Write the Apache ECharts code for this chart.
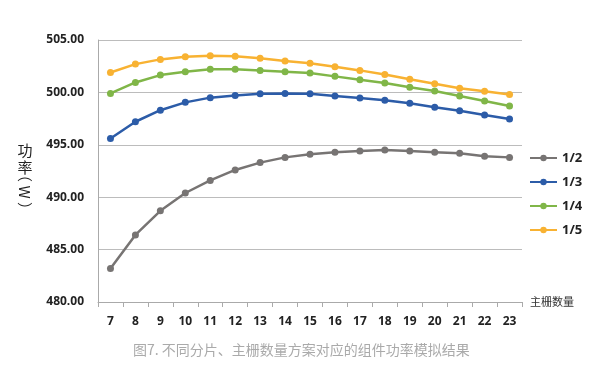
<!DOCTYPE html>
<html><head><meta charset="utf-8">
<script src="https://cdn.jsdelivr.net/npm/echarts@6/dist/echarts.min.js"></script>
<style>html,body{margin:0;padding:0;background:#fff}#c{width:600px;height:384px}</style>
</head><body><div id="c"></div>
<script>
const categories = ['7','8','9','10','11','12','13','14','15','16','17','18','19','20','21','22','23'];
const s12 = [483.2,486.4,488.7,490.4,491.6,492.6,493.3,493.8,494.1,494.3,494.4,494.5,494.4,494.3,494.2,493.9,493.8];
const s13 = [495.6,497.2,498.3,499.05,499.5,499.7,499.88,499.9,499.88,499.66,499.47,499.25,498.96,498.58,498.25,497.84,497.46];
const s14 = [499.9,500.95,501.65,501.97,502.2,502.2,502.1,501.97,501.85,501.53,501.2,500.9,500.5,500.13,499.66,499.18,498.7];
const s15 = [501.9,502.7,503.15,503.4,503.5,503.45,503.25,503.0,502.78,502.45,502.1,501.7,501.26,500.83,500.4,500.1,499.8];
const seriesNames = ['1/2','1/3','1/4','1/5'];
const colors = ['#777473','#2c5ca8','#80b648','#f8b232'];
const chart = echarts.init(document.getElementById('c'));
const mk = (name, data, color) => ({
  name, type: 'line', data, symbol: 'circle', symbolSize: 7,
  lineStyle: {width: 2.5, color}, itemStyle: {color}
});
chart.setOption({
  animation: false,
  grid: {left: 98, right: 78, top: 40, bottom: 82},
  legend: {
    orient: 'vertical', left: 529, top: 151, padding: 0, itemGap: 10, itemWidth: 27, itemHeight: 8,
    data: seriesNames,
    textStyle: {fontSize: 13, color: '#222', fontWeight: 'bold', lineHeight: 14, fontFamily: 'Open Sans'}
  },
  xAxis: {
    type: 'category', data: categories, boundaryGap: true,
    name: '主栅数量', nameLocation: 'end', nameGap: 8,
    nameTextStyle: {fontSize: 11, color: '#333', fontFamily: 'Noto Sans CJK SC', verticalAlign: 'middle'},
    axisLine: {lineStyle: {color: '#aaa', width: 1}},
    axisTick: {show: true, length: 5, alignWithLabel: false, lineStyle: {color: '#aaa'}},
    axisLabel: {fontSize: 12, fontWeight: 'bold', color: '#222', margin: 14, fontFamily: 'Open Sans'}
  },
  yAxis: {
    type: 'value', min: 480, max: 505, interval: 5,
    axisLine: {show: true, lineStyle: {color: '#aaa'}},
    axisTick: {show: false},
    splitLine: {lineStyle: {color: '#bcbcbc', width: 1}},
    axisLabel: {fontSize: 12, fontWeight: 'bold', color: '#222', margin: 14, fontFamily: 'Open Sans',
      formatter: v => v.toFixed(2)}
  },
  series: [mk(seriesNames[0], s12, colors[0]), mk(seriesNames[1], s13, colors[1]),
           mk(seriesNames[2], s14, colors[2]), mk(seriesNames[3], s15, colors[3])],
  graphic: [
    {type: 'text', x: 25, y: 142,
     style: {text: '功\n率', fontSize: 15, lineHeight: 17, fill: '#222', align: 'center', verticalAlign: 'top',
       fontFamily: 'Noto Sans CJK SC'}},
    {type: 'text', x: 25, y: 192, rotation: -Math.PI / 2,
     style: {text: '（ W ）', fontSize: 15, fill: '#222', align: 'center', verticalAlign: 'middle',
       fontFamily: 'Noto Sans CJK SC'}},
    {type: 'text', left: 133, top: 343,
     style: {text: '图7. 不同分片、主栅数量方案对应的组件功率模拟结果', fontSize: 14, fill: '#aaa',
       fontFamily: 'Noto Sans CJK SC'}}
  ]
});
</script></body></html>
